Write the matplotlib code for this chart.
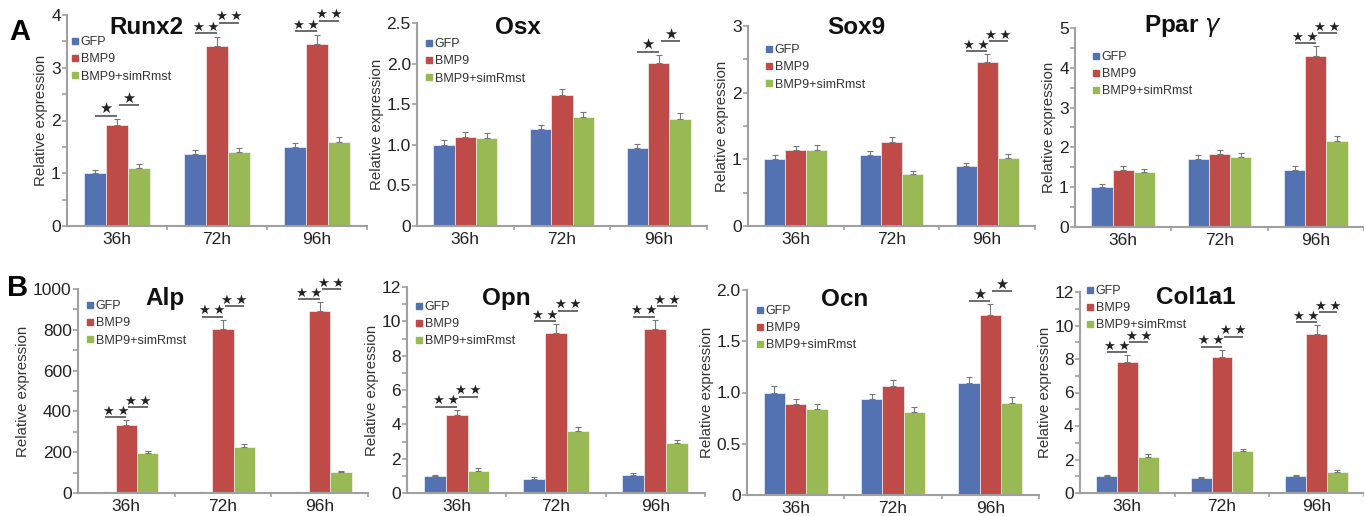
import numpy as np
import matplotlib
matplotlib.use("Agg")
import matplotlib.pyplot as plt
from matplotlib.lines import Line2D

plt.rcParams['font.family'] = ['Liberation Sans', 'DejaVu Sans']

# ---------------- data ----------------
times = ["36h", "72h", "96h"]
series_names = ["GFP", "BMP9", "BMP9+simRmst"]
genes = ["Runx2", "Osx", "Sox9", r"Ppar $\gamma$", "Alp", "Opn", "Ocn", "Col1a1"]

runx2_gfp = [1.00, 1.37, 1.50]
runx2_bmp9 = [1.92, 3.41, 3.45]
runx2_sim = [1.10, 1.40, 1.59]
runx2_gfp_err = [0.06, 0.08, 0.07]
runx2_bmp9_err = [0.11, 0.18, 0.18]
runx2_sim_err = [0.07, 0.07, 0.09]
runx2_sig = [1, 2, 2]

osx_gfp = [1.00, 1.19, 0.96]
osx_bmp9 = [1.10, 1.61, 2.01]
osx_sim = [1.08, 1.34, 1.32]
osx_gfp_err = [0.06, 0.06, 0.05]
osx_bmp9_err = [0.06, 0.08, 0.10]
osx_sim_err = [0.06, 0.06, 0.07]
osx_sig = [0, 0, 1]

sox9_gfp = [1.00, 1.065, 0.895]
sox9_bmp9 = [1.14, 1.255, 2.455]
sox9_sim = [1.145, 0.78, 1.025]
sox9_gfp_err = [0.06, 0.055, 0.045]
sox9_bmp9_err = [0.06, 0.075, 0.125]
sox9_sim_err = [0.065, 0.04, 0.06]
sox9_sig = [0, 0, 2]

ppar_gfp = [1.00, 1.70, 1.44]
ppar_bmp9 = [1.44, 1.83, 4.30]
ppar_sim = [1.38, 1.76, 2.15]
ppar_gfp_err = [0.07, 0.10, 0.09]
ppar_bmp9_err = [0.09, 0.10, 0.24]
ppar_sim_err = [0.07, 0.11, 0.14]
ppar_sig = [0, 0, 2]

alp_gfp = [2, 2, 2]
alp_bmp9 = [335, 806, 890]
alp_sim = [197, 227, 102]
alp_gfp_err = [1, 1, 1]
alp_bmp9_err = [21, 44, 45]
alp_sim_err = [10, 14, 6]
alp_sig = [2, 2, 2]

opn_gfp = [0.97, 0.83, 1.06]
opn_bmp9 = [4.55, 9.32, 9.57]
opn_sim = [1.30, 3.62, 2.90]
opn_gfp_err = [0.09, 0.08, 0.10]
opn_bmp9_err = [0.29, 0.51, 0.53]
opn_sim_err = [0.13, 0.25, 0.16]
opn_sig = [2, 2, 2]

ocn_gfp = [1.00, 0.94, 1.09]
ocn_bmp9 = [0.89, 1.06, 1.76]
ocn_sim = [0.84, 0.81, 0.90]
ocn_gfp_err = [0.06, 0.05, 0.06]
ocn_bmp9_err = [0.045, 0.06, 0.10]
ocn_sim_err = [0.045, 0.05, 0.06]
ocn_sig = [0, 0, 1]

col_gfp = [1.00, 0.92, 1.03]
col_bmp9 = [7.84, 8.12, 9.51]
col_sim = [2.15, 2.49, 1.25]
col_gfp_err = [0.06, 0.06, 0.06]
col_bmp9_err = [0.40, 0.44, 0.52]
col_sim_err = [0.18, 0.16, 0.10]
col_sig = [2, 2, 2]

# y tick values and labels
yt_runx2 = [0, 1, 2, 3, 4];            yl_runx2 = ["0", "1", "2", "3", "4"]
yt_osx = [0, 0.5, 1.0, 1.5, 2.0, 2.5]; yl_osx = ["0", "0.5", "1.0", "1.5", "2.0", "2.5"]
yt_sox9 = [0, 1, 2, 3];                yl_sox9 = ["0", "1", "2", "3"]
yt_ppar = [0, 1, 2, 3, 4, 5];          yl_ppar = ["0", "1", "2", "3", "4", "5"]
yt_alp = [0, 200, 400, 600, 800, 1000]; yl_alp = ["0", "200", "400", "600", "800", "1000"]
yt_opn = [0, 2, 4, 6, 8, 10, 12];      yl_opn = ["0", "2", "4", "6", "8", "10", "12"]
yt_ocn = [0, 0.5, 1.0, 1.5, 2.0];      yl_ocn = ["0", "0.5", "1.0", "1.5", "2.0"]
yt_col = [0, 2, 4, 6, 8, 10, 12];      yl_col = ["0", "2", "4", "6", "8", "10", "12"]

panels = [
    (runx2_gfp, runx2_bmp9, runx2_sim, runx2_gfp_err, runx2_bmp9_err, runx2_sim_err, runx2_sig, yt_runx2, yl_runx2),
    (osx_gfp, osx_bmp9, osx_sim, osx_gfp_err, osx_bmp9_err, osx_sim_err, osx_sig, yt_osx, yl_osx),
    (sox9_gfp, sox9_bmp9, sox9_sim, sox9_gfp_err, sox9_bmp9_err, sox9_sim_err, sox9_sig, yt_sox9, yl_sox9),
    (ppar_gfp, ppar_bmp9, ppar_sim, ppar_gfp_err, ppar_bmp9_err, ppar_sim_err, ppar_sig, yt_ppar, yl_ppar),
    (alp_gfp, alp_bmp9, alp_sim, alp_gfp_err, alp_bmp9_err, alp_sim_err, alp_sig, yt_alp, yl_alp),
    (opn_gfp, opn_bmp9, opn_sim, opn_gfp_err, opn_bmp9_err, opn_sim_err, opn_sig, yt_opn, yl_opn),
    (ocn_gfp, ocn_bmp9, ocn_sim, ocn_gfp_err, ocn_bmp9_err, ocn_sim_err, ocn_sig, yt_ocn, yl_ocn),
    (col_gfp, col_bmp9, col_sim, col_gfp_err, col_bmp9_err, col_sim_err, col_sig, yt_col, yl_col),
]

# ---------------- layout (pixels) ----------------
W, H = 1364, 516
# x0, x1, ytop, ybottom, group spacing px
boxes = [
    (67, 367, 15, 226, 100),
    (417, 707, 23, 226, 96.7),
    (748, 1035, 26, 226, 95.7),
    (1075, 1364, 28, 227, 99),
    (78, 368, 289, 493, 96.7),
    (407, 705, 287, 493, 99.3),
    (747, 1039, 290, 495, 97.3),
    (1080, 1364, 292, 493, 97),
]
title_pos = [(146, 28), (518, 28), (856, 27), (1183, 26), (165, 299), (506, 298), (845, 300), (1196, 298)]
legend_pos = [(75, 43), (429, 45), (769, 51), (1096, 58), (90, 307), (419, 308), (760, 312), (1090, 292)]

colors = ["#5472B2", "#BE4B48", "#98B954"]
bw = 0.22

fig = plt.figure(figsize=(W / 100, H / 100), dpi=100)

for i, (g, b, s, ge, be, se, sig, yt, yl) in enumerate(panels):
    x0, x1, yt_px, yb_px, gsp = boxes[i]
    ax = fig.add_axes([x0 / W, 1 - yb_px / H, (x1 - x0) / W, (yb_px - yt_px) / H])
    x = np.arange(len(times))
    vals = [g, b, s]
    errs = [ge, be, se]
    for k in range(3):
        ax.bar(x + (k - 1) * bw, vals[k], bw, color=colors[k], edgecolor='white', linewidth=0.4,
               yerr=[np.zeros(3), errs[k]],
               error_kw=dict(ecolor='#777777', elinewidth=0.8, capsize=2.2, capthick=0.8), zorder=2)
    ymax = yt[-1]
    ax.set_ylim(0, ymax)
    ax.set_xlim(-0.5, -0.5 + (x1 - x0) / gsp)
    ax.set_yticks(yt)
    ax.set_yticklabels(yl, fontsize=12.5, color='#222222')
    step = yt[1] - yt[0]
    if step in (1, 200, 2):
        ax.set_yticks(np.arange(step / 2, ymax, step), minor=True)
    ax.set_xticks(x)
    ax.set_xticklabels(times, fontsize=12.5, color='#222222')
    ax.set_xticks([0.5, 1.5, 2.5], minor=True)
    ax.tick_params(axis='x', which='major', length=0, pad=4)
    ax.tick_params(axis='x', which='minor', length=3, width=1.2, color='#A0A0A0')
    ax.tick_params(axis='y', which='both', length=3.5, width=1.2, color='#A0A0A0', pad=1)
    for sp in ['top', 'right']:
        ax.spines[sp].set_visible(False)
    for sp in ['left', 'bottom']:
        ax.spines[sp].set_color('#A0A0A0')
        ax.spines[sp].set_linewidth(1.5)
    ax.set_ylabel("Relative expression", fontsize=10.8, color='#333333', labelpad=2)
    ax.patch.set_alpha(0)

    # significance marks
    for j in range(3):
        if sig[j] == 0:
            continue
        top = b[j] + be[j]
        yl_left = top + 0.015 * ymax
        yl_right = yl_left + 0.05 * ymax
        stars = "★" if sig[j] == 1 else "★\u2009★"
        xs_left = (x[j] - bw, x[j])
        xs_right = (x[j] + 0.02, x[j] + bw)
        for (xa, xb), yy in [(xs_left, yl_left), (xs_right, yl_right)]:
            ax.plot([xa, xb], [yy, yy], color='#444444', lw=1.1, clip_on=False, zorder=3,
                    solid_capstyle='butt')
            ax.text((xa + xb) / 2, yy + 0.012 * ymax, stars, ha='center', va='baseline',
                    fontsize=9.5 if sig[j] == 2 else 10.5, color='#222222', clip_on=False,
                    family='DejaVu Sans')

    # title
    tx, ty = title_pos[i]
    fig.text(tx / W, 1 - ty / H, genes[i], ha='center', va='center', fontsize=17.5,
             fontweight='bold', color='#111111')

    # legend
    lx, ly = legend_pos[i]
    handles = [Line2D([], [], marker='s', linestyle='none', markersize=4.2, color=c) for c in colors]
    leg = ax.legend(handles, series_names, loc='upper left',
                    bbox_to_anchor=((lx - 3) / W, 1 - (ly - 7) / H), bbox_transform=fig.transFigure,
                    frameon=False, fontsize=9, borderpad=0, handlelength=0.5, handletextpad=0.2,
                    labelspacing=0.42, borderaxespad=0)
    for t in leg.get_texts():
        t.set_color('#333333')

fig.text(20 / W, 1 - 32 / H, "A", ha='center', va='center', fontsize=21, fontweight='bold')
fig.text(18 / W, 1 - 288 / H, "B", ha='center', va='center', fontsize=21, fontweight='bold')

fig.savefig("out.png", dpi=100)
